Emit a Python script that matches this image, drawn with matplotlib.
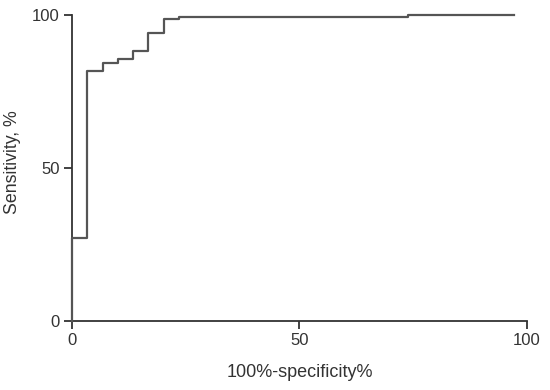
"""ROC curve: sensitivity vs 100% - specificity (step plot)."""

import matplotlib

matplotlib.use("Agg")
import matplotlib.pyplot as plt

# ROC step points
fpr = [0, 0, 3.3, 3.3, 6.8, 6.8, 10.2, 10.2, 13.4, 13.4, 16.8, 16.8,
       20.2, 20.2, 23.5, 23.5, 73.8, 73.8, 97.2]
sens = [0, 27.1, 27.1, 81.8, 81.8, 84.4, 84.4, 85.7, 85.7, 88.3, 88.3, 94.0,
        94.0, 98.6, 98.6, 99.4, 99.4, 100, 100]
ticks = [0, 50, 100]

plt.rcParams["font.family"] = ["Liberation Sans", "DejaVu Sans"]
INK = "#333333"

fig = plt.figure(figsize=(5.5, 3.9), dpi=100)
ax = fig.add_axes([0.131, 0.177, 0.827, 0.785])
ax.plot(fpr, sens, color="#555555", lw=1.6, clip_on=False, zorder=3)

ax.set_xlim(0, 100)
ax.set_ylim(0, 100)
ax.set_xticks(ticks)
ax.set_yticks(ticks)
for side in ("top", "right"):
    ax.spines[side].set_visible(False)
for side in ("left", "bottom"):
    ax.spines[side].set_color(INK)
    ax.spines[side].set_linewidth(1.3)
ax.tick_params(direction="out", length=6, width=1.3, color=INK,
               labelsize=12, labelcolor=INK, pad=3)
ax.set_xlabel("100%-specificity%", fontsize=13, color=INK)
ax.set_ylabel("Sensitivity, %", fontsize=12.8, color=INK)
ax.xaxis.set_label_coords(0.5, -0.14)
ax.yaxis.set_label_coords(-0.112, 0.52)

fig.savefig("out.png", dpi=100)
